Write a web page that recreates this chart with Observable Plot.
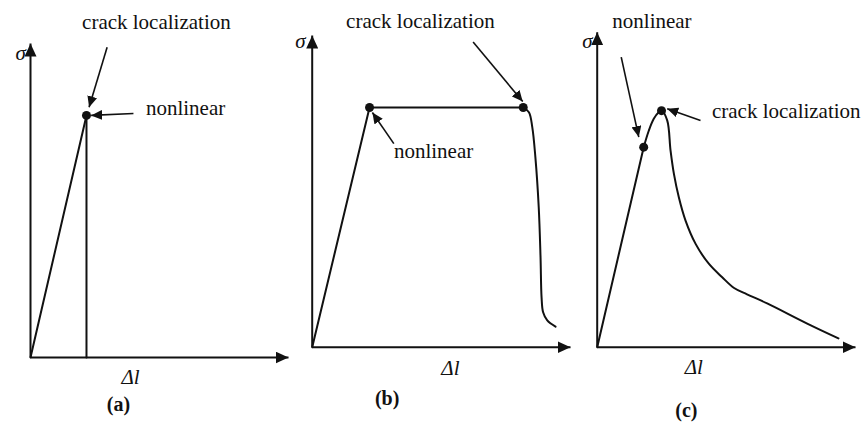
<!DOCTYPE html>
<html>
<head>
<meta charset="utf-8">
<script src="https://cdn.jsdelivr.net/npm/d3@7"></script>
<script src="https://cdn.jsdelivr.net/npm/@observablehq/plot@0.6"></script>
<style>
  body { margin: 0; background: #fff; }
  #fig { display: flex; width: 866px; height: 423px; }
  #fig svg { overflow: visible; }
</style>
</head>
<body>
<div id="fig"></div>
<script>
// Stress (σ) versus elongation (Δl), both normalised so the axis tips sit at 1.

// (a) brittle: linear rise, then sudden loss of strength
const riseA = [{dl: 0, s: 0}, {dl: 0.217, s: 0.771}];
const dropA = [{dl: 0.217, s: 0.771}, {dl: 0.217, s: 0}];
const pointsA = [{dl: 0.217, s: 0.771}];

// (b) ductile: linear rise, long plateau, steep softening
const riseB = [{dl: 0, s: 0}, {dl: 0.222, s: 0.769}];
const plateauB = [{dl: 0.222, s: 0.769}, {dl: 0.817, s: 0.769}];
const softeningB = [
  {dl: 0.817, s: 0.769}, {dl: 0.839, s: 0.754}, {dl: 0.852, s: 0.706},
  {dl: 0.864, s: 0.610}, {dl: 0.877, s: 0.449}, {dl: 0.884, s: 0.289},
  {dl: 0.888, s: 0.160}, {dl: 0.894, s: 0.112}, {dl: 0.910, s: 0.086},
  {dl: 0.942, s: 0.066}
];
const pointsB = [{dl: 0.222, s: 0.769}, {dl: 0.817, s: 0.769}];

// (c) quasi-brittle: linear rise, hardening to a peak, long softening tail
const riseC = [{dl: 0, s: 0}, {dl: 0.180, s: 0.635}];
const softeningC = [
  {dl: 0.180, s: 0.635}, {dl: 0.200, s: 0.688}, {dl: 0.219, s: 0.725},
  {dl: 0.238, s: 0.746}, {dl: 0.249, s: 0.751}, {dl: 0.271, s: 0.720},
  {dl: 0.284, s: 0.624}, {dl: 0.297, s: 0.550}, {dl: 0.316, s: 0.476},
  {dl: 0.342, s: 0.402}, {dl: 0.381, s: 0.328}, {dl: 0.432, s: 0.265},
  {dl: 0.484, s: 0.222}, {dl: 0.530, s: 0.188}, {dl: 0.580, s: 0.168},
  {dl: 0.658, s: 0.139}, {dl: 0.813, s: 0.075}, {dl: 0.934, s: 0.028}
];
const pointsC = [{dl: 0.180, s: 0.635}, {dl: 0.249, s: 0.751}];

// Annotation texts and the arrows pointing at the marked states
const notesA = [
  {text: "crack localization", dl: 0.488, s: 1.068},
  {text: "nonlinear", dl: 0.601, s: 0.793}
];
const arrowsA = [
  {dl1: 0.297, s1: 0.988, dl2: 0.227, s2: 0.797},
  {dl1: 0.399, s1: 0.777, dl2: 0.235, s2: 0.771}
];
const notesB = [
  {text: "crack localization", dl: 0.419, s: 1.045},
  {text: "nonlinear", dl: 0.470, s: 0.628}
];
const arrowsB = [
  {dl1: 0.623, s1: 0.979, dl2: 0.815, s2: 0.788},
  {dl1: 0.316, s1: 0.653, dl2: 0.233, s2: 0.753}
];
const notesC = [
  {text: "nonlinear", dl: 0.212, s: 1.034},
  {text: "crack localization", dl: 0.732, s: 0.748}
];
const arrowsC = [
  {dl1: 0.093, s1: 0.921, dl2: 0.161, s2: 0.667},
  {dl1: 0.400, s1: 0.720, dl2: 0.271, s2: 0.757}
];

const axes = [
  {dl1: 0, s1: 0, dl2: 1, s2: 0},
  {dl1: 0, s1: 0, dl2: 0, s2: 1}
];

const INK = "#111";
const SERIF = "Liberation Serif";

// Filled triangular arrow head, tip at the end of the path
function head(len, half) {
  return (color) => {
    const ns = "http://www.w3.org/2000/svg";
    const m = document.createElementNS(ns, "marker");
    m.setAttribute("viewBox", `0 ${-half} ${len} ${2 * half}`);
    m.setAttribute("markerWidth", len);
    m.setAttribute("markerHeight", 2 * half);
    m.setAttribute("markerUnits", "userSpaceOnUse");
    m.setAttribute("orient", "auto");
    m.setAttribute("refX", len);
    m.setAttribute("refY", 0);
    const p = document.createElementNS(ns, "path");
    p.setAttribute("d", `M0,${-half}L${len},0L0,${half}Z`);
    p.setAttribute("fill", color);
    p.setAttribute("stroke", "none");
    m.appendChild(p);
    return m;
  };
}

function panel(cfg) {
  const line = (data, curve) =>
    Plot.line(data, {x: "dl", y: "s", stroke: INK, strokeWidth: 2, curve});
  return Plot.plot({
    width: cfg.width,
    height: 423,
    marginLeft: cfg.ml, marginRight: cfg.mr,
    marginTop: cfg.mt, marginBottom: cfg.mb,
    x: {domain: [0, 1], axis: null},
    y: {domain: [0, 1], axis: null},
    style: {background: "transparent", overflow: "visible", fontFamily: SERIF},
    marks: [
      Plot.link(axes, {x1: "dl1", y1: "s1", x2: "dl2", y2: "s2",
        stroke: INK, strokeWidth: 2, markerEnd: head(13, 6)}),
      ...cfg.lines.map(([d, c]) => line(d, c)),
      Plot.dot(cfg.points, {x: "dl", y: "s", r: 4.5, fill: INK, stroke: "none"}),
      Plot.link(cfg.arrows, {x1: "dl1", y1: "s1", x2: "dl2", y2: "s2",
        stroke: INK, strokeWidth: 1.6, markerEnd: head(11, 5)}),
      Plot.text(cfg.notes, {x: "dl", y: "s", text: "text",
        fontFamily: SERIF, fontSize: 21, fill: INK}),
      Plot.text(["σ"], {frameAnchor: "top-left", dx: cfg.sigma[0], dy: cfg.sigma[1],
        fontFamily: SERIF, fontStyle: "italic", fontSize: 21, fill: INK}),
      Plot.text(["Δl"], {x: cfg.dlLabel[0], y: 0, dy: cfg.dlLabel[1],
        fontFamily: SERIF, fontStyle: "italic", fontSize: 21, fill: INK}),
      Plot.text([cfg.caption], {x: cfg.capPos[0], y: 0, dy: cfg.capPos[1],
        fontFamily: SERIF, fontWeight: "bold", fontSize: 20, fill: INK})
    ]
  });
}

const fig = document.getElementById("fig");
fig.append(panel({
  width: 290, ml: 30, mr: 2, mt: 43, mb: 66,
  lines: [[riseA, "linear"], [dropA, "linear"]],
  points: pointsA, arrows: arrowsA, notes: notesA,
  sigma: [-15, 2], dlLabel: [0.388, 20], caption: "(a)", capPos: [0.341, 47]
}));
fig.append(panel({
  width: 288, ml: 21.7, mr: 8, mt: 35, mb: 76.3,
  lines: [[riseB, "linear"], [plateauB, "linear"], [softeningB, "catmull-rom"]],
  points: pointsB, arrows: arrowsB, notes: notesB,
  sigma: [-17, -2], dlLabel: [0.535, 21], caption: "(b)", capPos: [0.290, 51.7]
}));
fig.append(panel({
  width: 288, ml: 18.7, mr: 11, mt: 31.7, mb: 76.3,
  lines: [[riseC, "linear"], [softeningC, "catmull-rom"]],
  points: pointsC, arrows: arrowsC, notes: notesC,
  sigma: [-15, 1], dlLabel: [0.374, 20], caption: "(c)", capPos: [0.345, 63.5]
}));
</script>
</body>
</html>
